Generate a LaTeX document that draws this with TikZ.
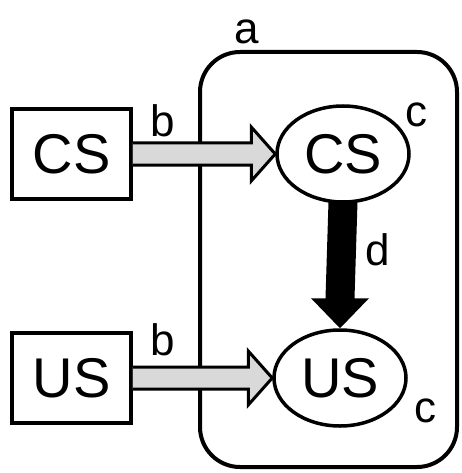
\documentclass[tikz,border=0pt]{standalone}
\usepackage{fontspec}
\setmainfont{Liberation Sans}
\usetikzlibrary{calc,shapes.geometric}
\tikzset{
  big/.style={font=\fontsize{56}{60}\selectfont},
  lab/.style={font=\fontsize{44}{48}\selectfont, inner sep=0pt},
  stimbox/.style={draw, line width=3.5pt, minimum width=119pt, minimum height=90pt, inner sep=0pt, big},
  rep/.style={draw, ellipse, line width=3.5pt, minimum width=132pt, minimum height=96pt, inner sep=0pt, big},
  garrow/.style={draw, fill=black!15, line width=3pt, line join=miter},
  karrow/.style={fill=black},
}
\begin{document}
\begin{tikzpicture}[x=1pt,y=-1pt]
\useasboundingbox (0,0) rectangle (462,473);
\node[draw, line width=4pt, rounded corners=40pt, minimum width=257pt, minimum height=415pt, inner sep=0pt] (frame) at (328.5,259.5) {};
\node[lab] (la) at (247,32) {a};
\node[stimbox] (cs1) at (71.5,154) {CS};
\node[stimbox] (us1) at (71.5,378) {US};
\node[rep] (cs2) at (343,154) {CS};
\node[rep] (us2) at (340,378) {US};
% b arrows
\fill[black!15] ($(cs1.east)+(0,-11)$) -- ($(cs2.west)+(-24,-11)$) -- ($(cs2.west)+(-24,-27)$) -- (cs2.west) -- ($(cs2.west)+(-24,27)$) -- ($(cs2.west)+(-24,11)$) -- ($(cs1.east)+(0,11)$) -- cycle;
\draw[garrow] ($(cs1.east)+(0,-11)$) -- ($(cs2.west)+(-24,-11)$) -- ($(cs2.west)+(-24,-27)$) -- (cs2.west) -- ($(cs2.west)+(-24,27)$) -- ($(cs2.west)+(-24,11)$) -- ($(cs1.east)+(0,11)$);
\fill[black!15] ($(us1.east)+(0,-11)$) -- ($(us2.west)+(-24,-11)$) -- ($(us2.west)+(-24,-27)$) -- (us2.west) -- ($(us2.west)+(-24,27)$) -- ($(us2.west)+(-24,11)$) -- ($(us1.east)+(0,11)$) -- cycle;
\draw[garrow] ($(us1.east)+(0,-11)$) -- ($(us2.west)+(-24,-11)$) -- ($(us2.west)+(-24,-27)$) -- (us2.west) -- ($(us2.west)+(-24,27)$) -- ($(us2.west)+(-24,11)$) -- ($(us1.east)+(0,11)$);
% d arrow
\fill[karrow] ($(cs2.south)+(-14.5,-2)$) -- ($(us2.north)+(-14.5,-30)$) -- ($(us2.north)+(-29,-30)$) -- (us2.north) -- ($(us2.north)+(29,-30)$) -- ($(us2.north)+(14.5,-30)$) -- ($(cs2.south)+(14.5,-2)$) -- cycle;
\node[lab] (lb1) at (163,121) {b};
\node[lab] (lb2) at (163,340) {b};
\node[lab] (lc1) at (416,115) {c};
\node[lab] (lc2) at (425,411) {c};
\node[lab] (ld) at (378,250) {d};
\end{tikzpicture}
\end{document}
